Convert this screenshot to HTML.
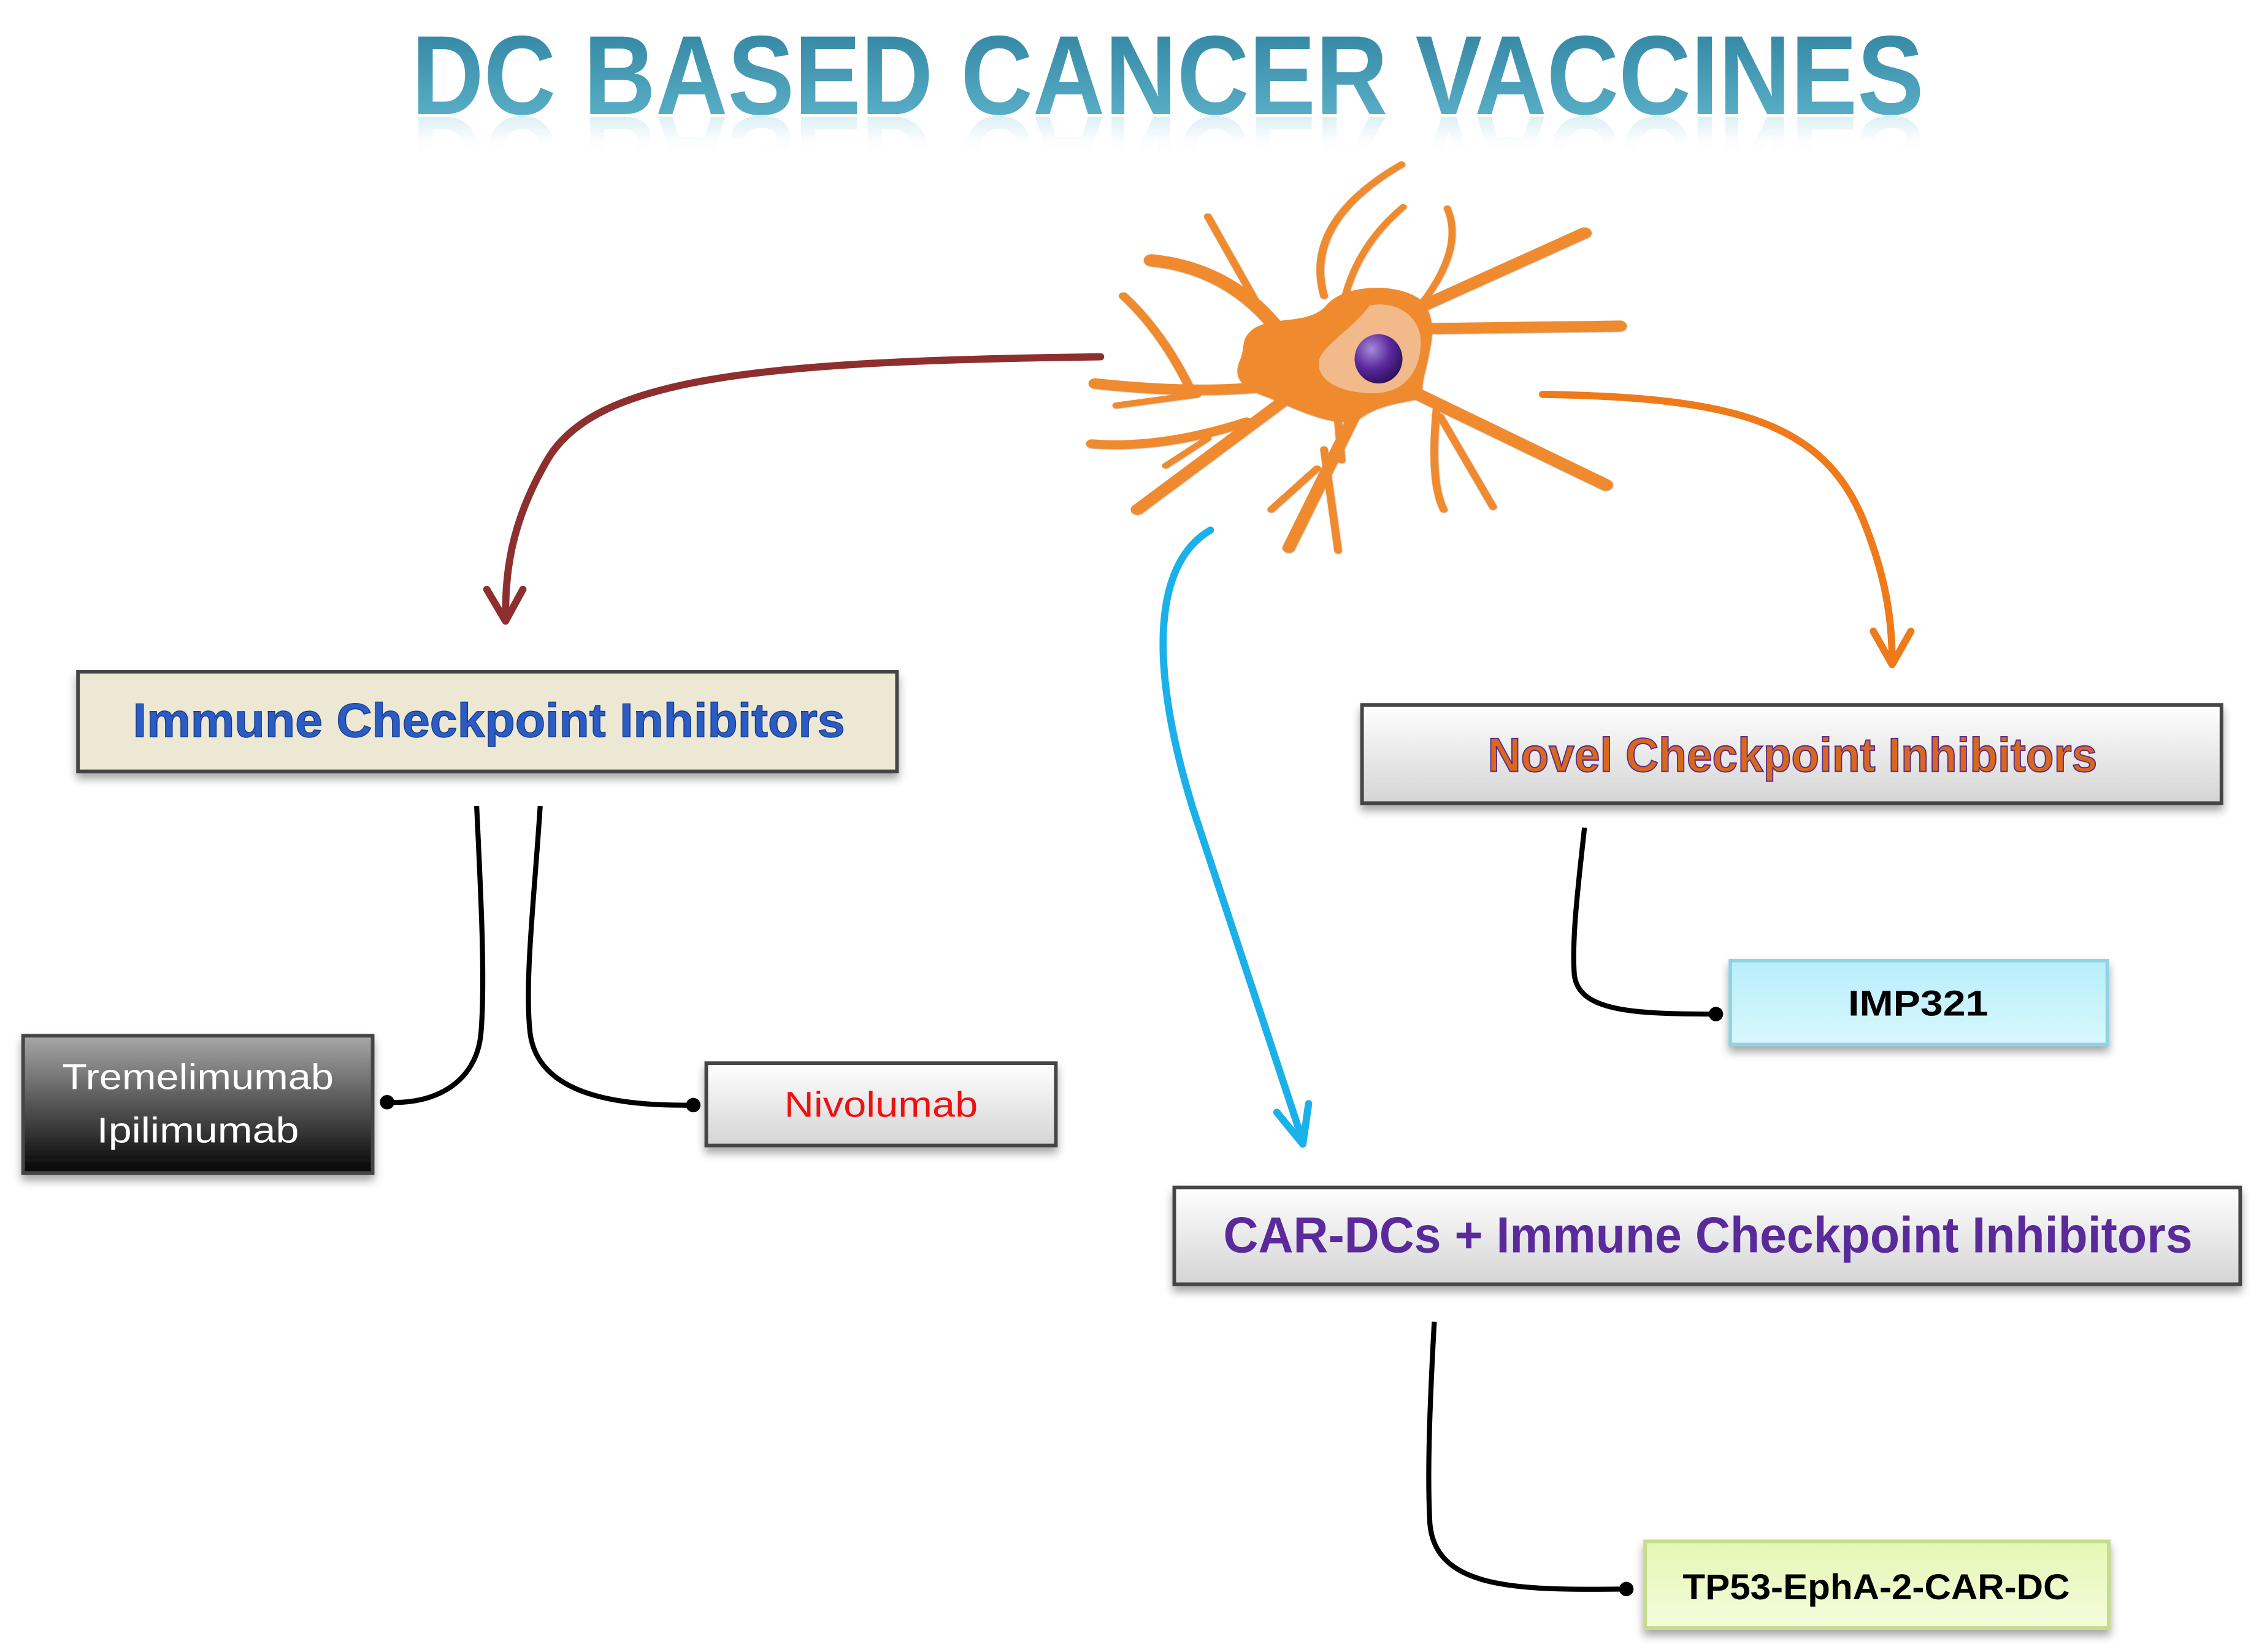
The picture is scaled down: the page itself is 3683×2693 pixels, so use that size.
<!DOCTYPE html>
<html><head><meta charset="utf-8"><style>
html,body{margin:0;padding:0;background:#fff}
svg{display:block}
text{font-family:"Liberation Sans",sans-serif}
</style></head><body>
<svg width="3683" height="2693" viewBox="0 0 1564 1143.6" xmlns="http://www.w3.org/2000/svg">
<defs>
<linearGradient id="tg" x1="0" y1="0" x2="0" y2="1"><stop offset="0" stop-color="#2d7f9c"/><stop offset="1" stop-color="#62b8cf"/></linearGradient>
<linearGradient id="rg" x1="0" y1="0" x2="0" y2="1"><stop offset="0" stop-color="#fff" stop-opacity="0.3"/><stop offset="0.6" stop-color="#fff" stop-opacity="0.9"/><stop offset="1" stop-color="#fff" stop-opacity="1"/></linearGradient>
<linearGradient id="gray" x1="0" y1="0" x2="0" y2="1"><stop offset="0" stop-color="#ffffff"/><stop offset="1" stop-color="#d4d4d4"/></linearGradient>
<linearGradient id="dark" x1="0" y1="0" x2="0" y2="1"><stop offset="0" stop-color="#a8a8a8"/><stop offset="0.5" stop-color="#555"/><stop offset="1" stop-color="#050505"/></linearGradient>
<linearGradient id="cyan" x1="0" y1="0" x2="0" y2="1"><stop offset="0" stop-color="#b8eefa"/><stop offset="1" stop-color="#d8f8fd"/></linearGradient>
<linearGradient id="lime" x1="0" y1="0" x2="0" y2="1"><stop offset="0" stop-color="#e4f7b4"/><stop offset="1" stop-color="#f4fcdc"/></linearGradient>
<radialGradient id="nuc" cx="0.35" cy="0.3" r="0.8"><stop offset="0" stop-color="#a58ad8"/><stop offset="0.5" stop-color="#5b2a9e"/><stop offset="1" stop-color="#250b4a"/></radialGradient>
<filter id="sh" x="-5%" y="-20%" width="110%" height="150%"><feDropShadow dx="0" dy="4" stdDeviation="3" flood-color="#000" flood-opacity="0.35"/></filter>
<filter id="csh"><feDropShadow dx="1" dy="2" stdDeviation="2" flood-color="#7a3a00" flood-opacity="0.5"/></filter>
</defs>

<!-- Title -->
<g opacity="0.3"><text transform="translate(0,160) scale(1,-1)" x="285" y="79" font-size="78" font-weight="bold" fill="#62b8cf" textLength="1047" lengthAdjust="spacingAndGlyphs">DC BASED CANCER VACCINES</text></g>
<rect x="270" y="81" width="1080" height="26" fill="url(#rg)"/>
<rect x="270" y="106" width="1080" height="40" fill="#fff"/>
<text x="285" y="79" font-size="78" font-weight="bold" fill="url(#tg)" textLength="1047" lengthAdjust="spacingAndGlyphs">DC BASED CANCER VACCINES</text>

<!-- Cell -->
<g transform="translate(755.8,106.2) scale(0.2437,0.1896)" filter="url(#csh)">
<g stroke="#ef8a2e" fill="none" stroke-linecap="round">
<path d="M660,520 Q600,250 880,40" stroke-width="22"/>
<path d="M720,520 Q760,330 885,195" stroke-width="20"/>
<path d="M930,560 Q1060,350 1010,200" stroke-width="20"/>
<path d="M900,580 L1400,290" stroke-width="40"/>
<path d="M920,640 L1500,630" stroke-width="40"/>
<path d="M880,850 L1460,1210" stroke-width="42"/>
<path d="M990,960 L1140,1290" stroke-width="22"/>
<path d="M980,930 Q960,1200 1000,1300" stroke-width="22"/>
<path d="M760,920 L560,1440" stroke-width="36"/>
<path d="M640,1150 L510,1300" stroke-width="22"/>
<path d="M660,1080 L700,1450" stroke-width="22"/>
<path d="M580,870 L130,1300" stroke-width="38"/>
<path d="M500,850 Q300,880 10,840" stroke-width="38"/>
<path d="M300,880 L70,920" stroke-width="22"/>
<path d="M540,660 Q400,420 170,390" stroke-width="44"/>
<path d="M510,640 L330,230" stroke-width="22"/>
<path d="M280,860 Q200,650 90,520" stroke-width="26"/>
<path d="M440,980 Q200,1080 0,1060" stroke-width="32"/>
<path d="M330,1040 L210,1140" stroke-width="20"/>
<path d="M700,980 L710,1120" stroke-width="22"/>
</g>
<path d="M460,640 C520,590 620,630 670,550 C720,480 860,470 930,530 C975,580 970,660 960,720 C950,800 930,850 945,890 C900,910 820,910 760,970 C690,1010 560,920 500,890 C430,860 400,820 420,760 C440,700 420,680 460,640 Z" fill="#ef8a2e"/>
<path d="M790,555 C870,535 940,600 935,700 C930,810 880,885 780,875 C670,865 630,800 650,740 C680,680 740,640 790,555 Z" fill="#f2b98a"/>
<ellipse cx="815" cy="750" rx="68" ry="90" fill="url(#nuc)"/>
</g>

<!-- Colored arrows -->
<g fill="none" stroke-linecap="round" stroke-linejoin="round">
<path d="M762,247 C520,250 410,262 378,320 C352,365 350,400 350,428" stroke="#8e2f2f" stroke-width="5"/>
<path d="M337,408 L350,430 L362,408" stroke="#8e2f2f" stroke-width="5"/>
<path d="M1068,273 C1200,275 1262,292 1290,360 C1306,400 1310,430 1310,458" stroke="#ee7a1a" stroke-width="5"/>
<path d="M1297,437 L1310,460 L1323,437" stroke="#ee7a1a" stroke-width="5"/>
<path d="M838,367 C795,392 798,470 826,560 L902,790" stroke="#1ab0ea" stroke-width="5"/>
<path d="M884,770 L902,792 L906,764" stroke="#1ab0ea" stroke-width="5"/>
</g>

<!-- Black connectors -->
<g fill="none" stroke="#000" stroke-width="3.5">
<path d="M330,558 C333,620 336,680 333,715 C330,750 300,765 268,763"/>
<path d="M374,558 C370,620 363,680 367,715 C372,755 420,766 480,765"/>
<path d="M1097,573 C1093,610 1088,650 1090,675 C1093,700 1130,702 1188,702"/>
<path d="M993,915 C990,970 988,1020 990,1055 C994,1100 1050,1101 1126,1100"/>
</g>
<g fill="#000"><circle cx="268" cy="763" r="5"/><circle cx="480" cy="765" r="5"/><circle cx="1188" cy="702" r="5"/><circle cx="1126" cy="1100" r="5"/></g>

<!-- Boxes -->
<g stroke="#444" stroke-width="2.5" filter="url(#sh)">
<rect x="54" y="465" width="567" height="69" fill="#ede8d4"/>
<rect x="943" y="488" width="595" height="68" fill="url(#gray)"/>
<rect x="813" y="822" width="738" height="67" fill="url(#gray)"/>
<rect x="16" y="717" width="242" height="95" fill="url(#dark)"/>
<rect x="489" y="736" width="242" height="57" fill="url(#gray)"/>
<rect x="1198" y="665" width="261" height="58" fill="url(#cyan)" stroke="#8fd4e4"/>
<rect x="1139" y="1067" width="321" height="60" fill="url(#lime)" stroke="#c4dc8c"/>
</g>

<!-- Box texts -->
<text x="92" y="510" font-size="33" font-weight="bold" fill="#2a5cc4" stroke="#1a3a8a" stroke-width="0.6" textLength="493" lengthAdjust="spacingAndGlyphs">Immune Checkpoint Inhibitors</text>
<text x="1030" y="534" font-size="33" font-weight="bold" fill="#d8681e" stroke="#5a2a8a" stroke-width="0.8" textLength="422" lengthAdjust="spacingAndGlyphs">Novel Checkpoint Inhibitors</text>
<text x="847" y="867" font-size="35" font-weight="bold" fill="#5a2a9a" textLength="671" lengthAdjust="spacingAndGlyphs">CAR-DCs + Immune Checkpoint Inhibitors</text>
<text x="137" y="754" font-size="25" fill="#fff" text-anchor="middle" textLength="188" lengthAdjust="spacingAndGlyphs">Tremelimumab</text>
<text x="137" y="791" font-size="25" fill="#fff" text-anchor="middle" textLength="140" lengthAdjust="spacingAndGlyphs">Ipilimumab</text>
<text x="610" y="773" font-size="25" fill="#ee1111" text-anchor="middle" textLength="134" lengthAdjust="spacingAndGlyphs">Nivolumab</text>
<text x="1328" y="703" font-size="25" font-weight="bold" fill="#000" text-anchor="middle" textLength="97" lengthAdjust="spacingAndGlyphs">IMP321</text>
<text x="1299" y="1107" font-size="25" font-weight="bold" fill="#000" text-anchor="middle" textLength="268" lengthAdjust="spacingAndGlyphs">TP53-EphA-2-CAR-DC</text>
</svg>
</body></html>
